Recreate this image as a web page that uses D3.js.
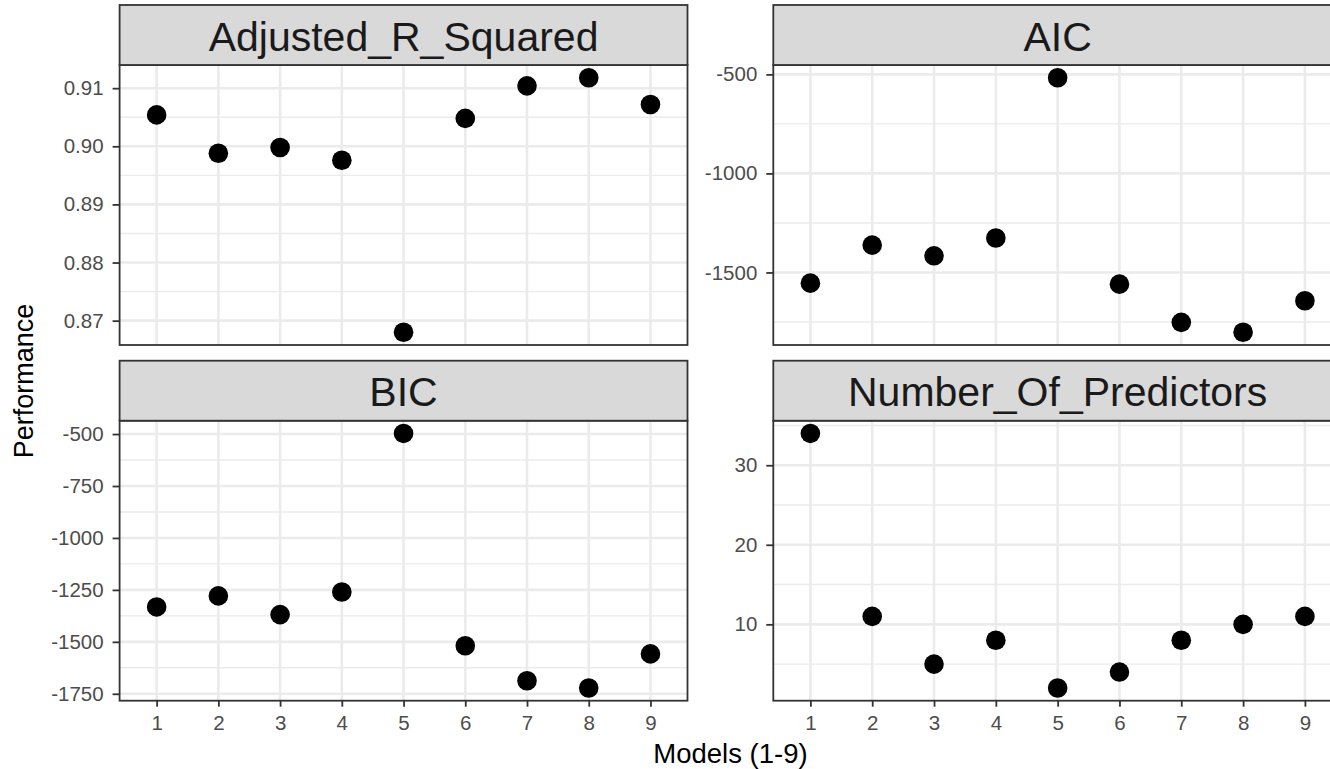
<!DOCTYPE html>
<html>
<head>
<meta charset="utf-8">
<title>Model performance</title>
<script src="https://cdn.jsdelivr.net/npm/d3@7"></script>
<style>
    body { margin: 0; background: white; }
    text { font-family: "Liberation Sans", Arial, sans-serif; }
</style>
</head>
<body>
<svg id="chart" width="1330" height="769"></svg>
<script>
    // values
    var models = ["1", "2", "3", "4", "5", "6", "7", "8", "9"]
    var adjR2 = [0.9054, 0.8988, 0.8998, 0.8976, 0.8680, 0.9048, 0.9104, 0.9118, 0.9072]
    var aic = [-1554, -1362, -1416, -1326, -517, -1559, -1752, -1802, -1643]
    var bic = [-1332, -1279, -1369, -1260, -497, -1519, -1687, -1722, -1558]
    var nPred = [34, 11, 5, 8, 2, 4, 8, 10, 11]

    var adjR2Ticks = [0.87, 0.88, 0.89, 0.90, 0.91]
    var aicTicks = [-1500, -1000, -500]
    var bicTicks = [-1750, -1500, -1250, -1000, -750, -500]
    var nPredTicks = [10, 20, 30]

    var panelNames = ["Adjusted_R_Squared", "AIC", "BIC", "Number_Of_Predictors"]

    var svg = d3.select("#chart")

    // panel geometry (the figure is cut off on the right)
    var colX = [[119.6, 687.5], [773.3, 1342]]
    var rowY = [[5, 65, 345], [360.7, 420.7, 700.7]]   // strip top, panel top, panel bottom

    var panels = [
        {name: panelNames[0], vals: adjR2, ticks: adjR2Ticks, fmt: d3.format(".2f"), col: 0, row: 0},
        {name: panelNames[1], vals: aic, ticks: aicTicks, fmt: String, col: 1, row: 0},
        {name: panelNames[2], vals: bic, ticks: bicTicks, fmt: String, col: 0, row: 1},
        {name: panelNames[3], vals: nPred, ticks: nPredTicks, fmt: String, col: 1, row: 1}
    ]

    function minorBreaks(ticks, dom) {
        var step = ticks[1] - ticks[0]
        var out = []
        var start = ticks[0] - step / 2
        for (var v = start; v <= dom[1] + 1e-9; v += step) {
            if (v >= dom[0]) out.push(v)
        }
        return out
    }

    var clip = svg.append("defs")

    panels.forEach(function(p, i) {
        var x0 = colX[p.col][0], x1 = colX[p.col][1]
        var sTop = rowY[p.row][0], y0 = rowY[p.row][1], y1 = rowY[p.row][2]

        var lo = d3.min(p.vals), hi = d3.max(p.vals), pad = (hi - lo) * 0.05
        var y = d3.scaleLinear().domain([lo - pad, hi + pad]).range([y1, y0])
        var x = d3.scalePoint().domain(models).range([x0, x1]).padding(0.6)

        var g = svg.append("g")

        // white panel + grid
        g.append("rect").attr("x", x0).attr("y", y0).attr("width", x1 - x0).attr("height", y1 - y0)
            .attr("fill", "white")

        g.selectAll(".minor").data(minorBreaks(p.ticks, y.domain())).enter().append("line")
            .attr("x1", x0).attr("x2", x1)
            .attr("y1", d => y(d)).attr("y2", d => y(d))
            .attr("stroke", "#EBEBEB").attr("stroke-width", 1.4)
        g.selectAll(".majorY").data(p.ticks).enter().append("line")
            .attr("x1", x0).attr("x2", x1)
            .attr("y1", d => y(d)).attr("y2", d => y(d))
            .attr("stroke", "#EBEBEB").attr("stroke-width", 2.6)
        g.selectAll(".majorX").data(models).enter().append("line")
            .attr("x1", d => x(d)).attr("x2", d => x(d))
            .attr("y1", y0).attr("y2", y1)
            .attr("stroke", "#EBEBEB").attr("stroke-width", 2.6)

        g.selectAll("circle").data(p.vals).enter().append("circle")
            .attr("cx", (d, k) => x(models[k]))
            .attr("cy", d => y(d))
            .attr("r", 9.8)
            .attr("fill", "black")

        g.append("rect").attr("x", x0).attr("y", y0).attr("width", x1 - x0).attr("height", y1 - y0)
            .attr("fill", "none").attr("stroke", "#333333").attr("stroke-width", 1.8)

        // strip
        g.append("rect").attr("x", x0).attr("y", sTop).attr("width", x1 - x0).attr("height", y0 - sTop)
            .attr("fill", "#D9D9D9").attr("stroke", "#333333").attr("stroke-width", 1.8)
        g.append("text")
            .attr("x", (x0 + x1) / 2).attr("y", sTop + 45.5)
            .attr("text-anchor", "middle")
            .style("font-size", "41px")
            .attr("fill", "#1A1A1A")
            .text(p.name)

        // y axis
        var ya = g.append("g").attr("transform", "translate(" + x0 + ",0)")
            .call(d3.axisLeft(y).tickValues(p.ticks).tickFormat(p.fmt).tickSize(7).tickPadding(9))
        ya.select(".domain").remove()
        ya.selectAll("line").attr("stroke", "#333333").attr("stroke-width", 1.8)
        ya.selectAll("text").attr("fill", "#4D4D4D").style("font-size", "20.5px")
            .style("font-family", "'Liberation Sans', Arial, sans-serif")

        // x axis only on bottom row
        if (p.row == 1) {
            var xa = g.append("g").attr("transform", "translate(0," + y1 + ")")
                .call(d3.axisBottom(x).tickSize(6).tickPadding(9))
            xa.select(".domain").remove()
            xa.selectAll("line").attr("stroke", "#333333").attr("stroke-width", 1.8)
            xa.selectAll("text").attr("fill", "#4D4D4D").style("font-size", "20.5px")
                .style("font-family", "'Liberation Sans', Arial, sans-serif")
        }
    })

    svg.append("text")
        .attr("x", 730.5).attr("y", 763)
        .attr("text-anchor", "middle")
        .style("font-size", "27.5px")
        .attr("fill", "black")
        .text("Models (1-9)")

    svg.append("text")
        .attr("transform", "translate(33,381) rotate(-90)")
        .attr("text-anchor", "middle")
        .style("font-size", "27px")
        .attr("fill", "black")
        .text("Performance")
</script>
</body>
</html>
